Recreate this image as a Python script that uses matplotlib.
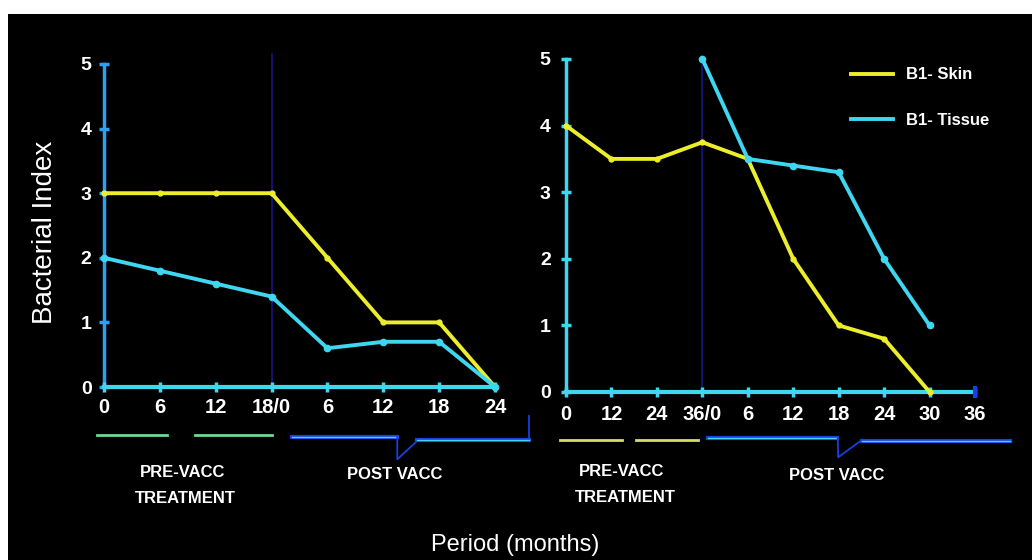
import matplotlib.pyplot as plt
from matplotlib.patches import Rectangle

# data
left_ticks = ['0', '6', '12', '18/0', '6', '12', '18', '24']
left_skin = [3, 3, 3, 3, 2, 1, 1, 0]
left_tissue = [2, 1.8, 1.6, 1.4, 0.6, 0.7, 0.7, 0]

right_ticks = ['0', '12', '24', '36/0', '6', '12', '18', '24', '30', '36']
right_skin = [4, 3.5, 3.5, 3.75, 3.5, 2, 1, 0.8, 0]
right_tissue = [5, 3.5, 3.4, 3.3, 2, 1]
right_tissue_start = 3

y_ticks = [0, 1, 2, 3, 4, 5]

skin_col = '#ecee2c'
tissue_col = '#3fd6f0'
axis_blue = '#2f9ff2'
divider_col = '#14147a'
navy = '#1a3fe0'
font = 'Liberation Sans'

W, H = 1032, 560
fig = plt.figure(figsize=(W / 100, H / 100), dpi=100)
fig.patch.set_facecolor('white')
fig.patches.append(Rectangle((8 / W, 0), 1 - 8 / W, 1 - 14 / H, transform=fig.transFigure,
                             facecolor='black', edgecolor='none', zorder=-10))


def px_axes(x0, x1, y0, y1):
    # pixel box (from top-left) -> axes
    return fig.add_axes([x0 / W, 1 - y0 / H, (x1 - x0) / W, (y0 - y1) / H])


def style(ax, ticks, pad_x, pad_y):
    ax.set_facecolor('none')
    for s in ax.spines.values():
        s.set_visible(False)
    ax.set_xticks(range(len(ticks)), ticks)
    ax.set_yticks(y_ticks, [str(v) for v in y_ticks])
    ax.tick_params(axis='x', length=0, pad=pad_x, colors='white', labelsize=14.5)
    ax.tick_params(axis='y', length=0, pad=pad_y, colors='white', labelsize=14)
    for lab in ax.get_xticklabels() + ax.get_yticklabels():
        lab.set_fontweight('bold')
        lab.set_fontfamily(font)


def bold_text(ax, x, y, s):
    ax.text(x, y, s, color='white', fontsize=12, fontweight='bold', family=font,
            ha='center', va='center', clip_on=False)


# ---------- left panel ----------
axl = px_axes(104, 495, 387, 64)
axl.set_xlim(0, len(left_ticks) - 1)
axl.set_ylim(0, 5)
style(axl, left_ticks, 8, 9)
xl = list(range(len(left_ticks)))

axl.plot([3, 3], [0, 5.15], color=divider_col, lw=1.3, clip_on=False, zorder=1)
axl.plot([0] * len(y_ticks), y_ticks, color=axis_blue, lw=2.5, marker='_', ms=7, mew=2.5,
         clip_on=False, zorder=3)
axl.plot(xl, [0] * len(xl), color=tissue_col, lw=3, marker='|', ms=7, mew=2.5,
         clip_on=False, zorder=4)
axl.plot(xl, left_skin, color=skin_col, lw=2.8, marker='o', ms=3.5, clip_on=False, zorder=5)
axl.plot(xl, left_tissue, color=tissue_col, lw=2.8, marker='o', ms=4.5, clip_on=False, zorder=6)

green = '#6fd890'
axl.plot([-0.13, 1.13], [-0.74, -0.74], color=green, lw=2, clip_on=False)
axl.plot([1.63, 3.0], [-0.74, -0.74], color=green, lw=2, clip_on=False)
axl.plot([3.37, 5.25], [-0.77, -0.77], color=navy, lw=3, clip_on=False)
axl.plot([3.37, 5.25], [-0.77, -0.77], color=tissue_col, lw=1, clip_on=False)
axl.plot([5.25, 5.25, 5.6], [-0.77, -1.12, -0.84], color=navy, lw=1.3, clip_on=False)
axl.plot([5.6, 7.6], [-0.82, -0.82], color=navy, lw=3, clip_on=False)
axl.plot([7.6, 7.6], [-0.82, -0.45], color=navy, lw=1.3, clip_on=False)
axl.plot([5.6, 7.6], [-0.82, -0.82], color=tissue_col, lw=1, clip_on=False)
bold_text(axl, 1.41, -1.33, 'PRE-VACC')
bold_text(axl, 1.45, -1.72, 'TREATMENT')
bold_text(axl, 5.21, -1.35, 'POST VACC')

# ---------- right panel ----------
axr = px_axes(566, 975, 392, 59)
axr.set_xlim(0, len(right_ticks) - 1)
axr.set_ylim(0, 5)
style(axr, right_ticks, 9, 11)
xr = list(range(len(right_ticks)))

axr.plot([3, 3], [0, 5.05], color=divider_col, lw=1.3, clip_on=False, zorder=1)
axr.plot([0] * len(y_ticks), y_ticks, color=tissue_col, lw=2.5, marker='_', ms=7, mew=2.5,
         clip_on=False, zorder=3)
axr.plot(xr, [0] * len(xr), color=tissue_col, lw=3, marker='|', ms=7, mew=2.5,
         clip_on=False, zorder=4)
axr.plot([xr[-1]], [0], color=navy, marker='|', ms=9, mew=3, clip_on=False, zorder=4)
skin_line, = axr.plot(xr[:len(right_skin)], right_skin, color=skin_col, lw=2.8, marker='o',
                      ms=3.5, clip_on=False, zorder=5, label='B1- Skin')
tissue_line, = axr.plot(xr[right_tissue_start:right_tissue_start + len(right_tissue)],
                        right_tissue, color=tissue_col, lw=2.8, marker='o', ms=4.5,
                        clip_on=False, zorder=6, label='B1- Tissue')

yellow = '#d6e060'
axr.plot([-0.13, 1.23], [-0.72, -0.72], color=yellow, lw=2, clip_on=False)
axr.plot([1.54, 2.9], [-0.72, -0.72], color=yellow, lw=2, clip_on=False)
axr.plot([3.12, 5.96], [-0.69, -0.69], color=navy, lw=3, clip_on=False)
axr.plot([3.12, 5.96], [-0.69, -0.69], color=tissue_col, lw=1, clip_on=False)
axr.plot([5.98, 5.99, 6.51], [-0.69, -0.98, -0.72], color=navy, lw=1.3, clip_on=False)
axr.plot([6.51, 9.77], [-0.74, -0.74], color=navy, lw=3, clip_on=False)
axr.plot([6.51, 9.77], [-0.74, -0.74], color=tissue_col, lw=1, clip_on=False)
bold_text(axr, 1.23, -1.20, 'PRE-VACC')
bold_text(axr, 1.30, -1.58, 'TREATMENT')
bold_text(axr, 5.96, -1.26, 'POST VACC')

leg = axr.legend(handles=[skin_line, tissue_line], loc='upper left',
                 bbox_to_anchor=(0.66, 1.02), frameon=False, handlelength=2.5,
                 handletextpad=0.8, labelspacing=1.85,
                 prop={'family': font, 'weight': 'bold', 'size': 12})
for t in leg.get_texts():
    t.set_color('white')
for h in leg.legend_handles:
    h.set_marker('')

fig.text(45 / W, 1 - 232 / H, 'Bacterial Index', rotation=90, color='white',
         fontsize=20, family=font, ha='center', va='center')
fig.text(515 / W, 1 - 545 / H, 'Period (months)', color='white',
         fontsize=17, family=font, ha='center', va='center')

fig.savefig('out.png', dpi=100, facecolor=fig.get_facecolor())
